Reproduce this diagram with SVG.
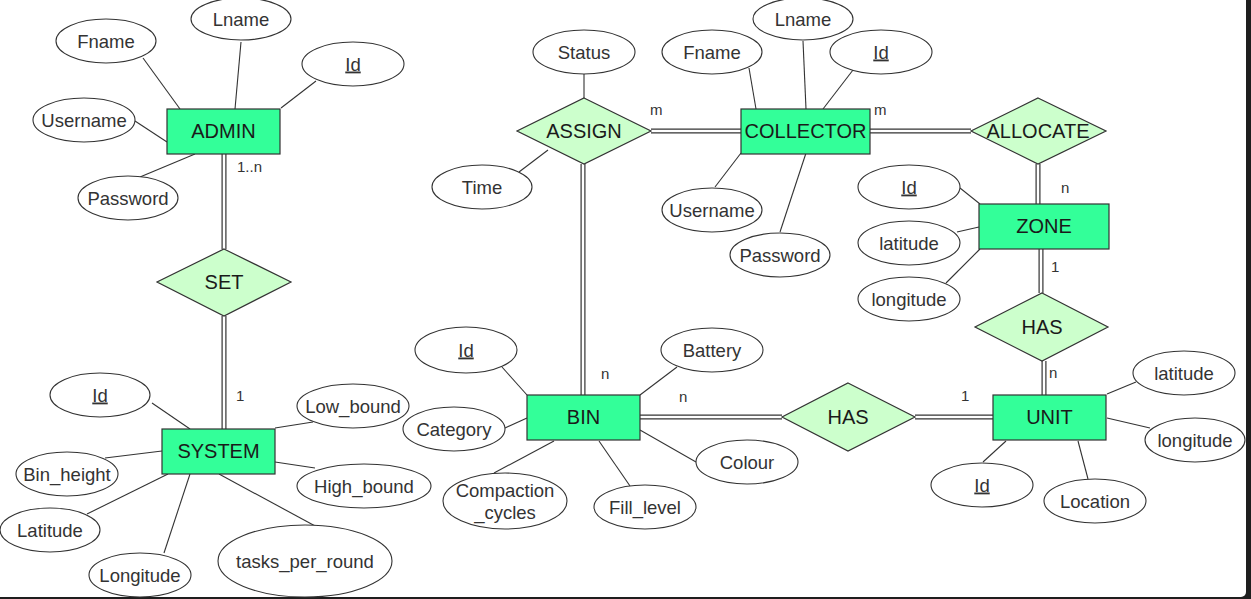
<svg xmlns="http://www.w3.org/2000/svg" width="1251" height="599" viewBox="0 0 1251 599">
<defs>
<style>
.ent{fill:#33FF99;stroke:#333;stroke-width:1.2}
.rel{fill:#CCFFCC;stroke:#333;stroke-width:1.2}
.att{fill:#fff;stroke:#333;stroke-width:1.1}
.et{font-family:"Liberation Sans",Arial,sans-serif;font-size:20px;fill:#1a1a1a;text-anchor:middle}
.at{font-family:"Liberation Sans",Arial,sans-serif;font-size:18.5px;fill:#333;text-anchor:middle}
.card{font-family:"Liberation Sans",Arial,sans-serif;font-size:15px;fill:#333}
.ln{stroke:#333;stroke-width:1.1;fill:none}
.dbo{stroke:#333;stroke-width:5;fill:none}
.dbi{stroke:#fff;stroke-width:2.6;fill:none}
.u{text-decoration:underline}
</style>
</defs>
<rect x="0" y="0" width="1251" height="599" fill="#1e1e1e"/>
<rect x="-10" y="-10" width="1256" height="607" rx="5" fill="#fff"/>

<g id="connectors">
<line class="ln" x1="143" y1="58" x2="180" y2="109"/>
<line class="ln" x1="241" y1="42" x2="235" y2="109"/>
<line class="ln" x1="316" y1="81" x2="281" y2="108"/>
<line class="ln" x1="135" y1="121" x2="167" y2="142"/>
<line class="ln" x1="140" y1="177" x2="195" y2="154"/>

<line class="ln" x1="152" y1="403" x2="190" y2="429"/>
<line class="ln" x1="275" y1="428" x2="313" y2="422"/>
<line class="ln" x1="105" y1="458" x2="162" y2="451"/>
<line class="ln" x1="275" y1="462" x2="315" y2="468"/>
<line class="ln" x1="87" y1="514" x2="168" y2="474"/>
<line class="ln" x1="164" y1="553" x2="190" y2="474"/>
<line class="ln" x1="219" y1="474" x2="317" y2="527"/>

<line class="ln" x1="584" y1="74" x2="584" y2="98"/>
<line class="ln" x1="519" y1="172" x2="548" y2="150"/>

<line class="ln" x1="749" y1="68" x2="756" y2="109"/>
<line class="ln" x1="803" y1="41" x2="806" y2="109"/>
<line class="ln" x1="853" y1="70" x2="823" y2="109"/>
<line class="ln" x1="715" y1="187" x2="741" y2="153"/>
<line class="ln" x1="780" y1="232" x2="806" y2="153"/>

<line class="ln" x1="960" y1="188" x2="980" y2="204"/>
<line class="ln" x1="957" y1="232" x2="979" y2="227"/>
<line class="ln" x1="946" y1="283" x2="980" y2="249"/>

<line class="ln" x1="502" y1="367" x2="527" y2="395"/>
<line class="ln" x1="677" y1="367" x2="640" y2="395"/>
<line class="ln" x1="505" y1="428" x2="527" y2="418"/>
<line class="ln" x1="696" y1="462" x2="640" y2="430"/>
<line class="ln" x1="494" y1="473" x2="554" y2="441"/>
<line class="ln" x1="630" y1="486" x2="599" y2="441"/>

<line class="ln" x1="1107" y1="394" x2="1136" y2="382"/>
<line class="ln" x1="1107" y1="418" x2="1150" y2="428"/>
<line class="ln" x1="983" y1="462" x2="1006" y2="441"/>
<line class="ln" x1="1088" y1="479" x2="1078" y2="441"/>

<g>
<path class="dbo" d="M224 154V249 M224 316V429 M651 131H741 M870 131H971 M1038 164V204 M1041 249V293 M1044 361V395 M583 164V395 M640 417H782 M915 417H993"/>
<path class="dbi" d="M224 154V249 M224 316V429 M651 131H741 M870 131H971 M1038 164V204 M1041 249V293 M1044 361V395 M583 164V395 M640 417H782 M915 417H993"/>
</g>

<text class="card" x="237" y="172">1..n</text>
<text class="card" x="236" y="401">1</text>
<text class="card" x="650" y="115">m</text>
<text class="card" x="874" y="115">m</text>
<text class="card" x="1061" y="193">n</text>
<text class="card" x="1051" y="272">1</text>
<text class="card" x="1049" y="378">n</text>
<text class="card" x="961" y="401">1</text>
<text class="card" x="601" y="379">n</text>
<text class="card" x="679" y="402">n</text>
</g>

<g id="admin">
<rect class="ent" x="167" y="109" width="113" height="45"/>
<text class="et" x="223.5" y="138">ADMIN</text>
</g>
<g id="admin-fname"><ellipse class="att" cx="106" cy="41" rx="50" ry="22"/><text class="at" x="106" y="47.5">Fname</text></g>
<g id="admin-lname"><ellipse class="att" cx="241" cy="19" rx="50" ry="21"/><text class="at" x="241" y="25.5">Lname</text></g>
<g id="admin-id"><ellipse class="att" cx="353" cy="64" rx="51" ry="22"/><text class="at u" x="353" y="70.5">Id</text></g>
<g id="admin-username"><ellipse class="att" cx="84" cy="120" rx="51" ry="22"/><text class="at" x="84" y="126.5">Username</text></g>
<g id="admin-password"><ellipse class="att" cx="128" cy="198" rx="50" ry="22"/><text class="at" x="128" y="204.5">Password</text></g>

<g id="set">
<polygon class="rel" points="224,249 291,282 224,316 157,282"/>
<text class="et" x="224" y="289">SET</text>
</g>

<g id="system">
<rect class="ent" x="162" y="429" width="113" height="45"/>
<text class="et" x="218.5" y="458">SYSTEM</text>
</g>
<g id="system-id"><ellipse class="att" cx="100" cy="395" rx="50" ry="22"/><text class="at u" x="100" y="401.5">Id</text></g>
<g id="system-lowbound"><ellipse class="att" cx="353" cy="406" rx="56" ry="22"/><text class="at" x="353" y="412.5">Low_bound</text></g>
<g id="system-binheight"><ellipse class="att" cx="67" cy="474" rx="51" ry="22"/><text class="at" x="67" y="480.5">Bin_height</text></g>
<g id="system-highbound"><ellipse class="att" cx="364" cy="486" rx="67" ry="22"/><text class="at" x="364" y="492.5">High_bound</text></g>
<g id="system-latitude"><ellipse class="att" cx="50" cy="530" rx="50" ry="22"/><text class="at" x="50" y="536.5">Latitude</text></g>
<g id="system-longitude"><ellipse class="att" cx="140" cy="575" rx="51" ry="22"/><text class="at" x="140" y="581.5">Longitude</text></g>
<g id="system-tasks"><ellipse class="att" cx="305" cy="561" rx="87" ry="36"/><text class="at" x="305" y="567.5">tasks_per_round</text></g>

<g id="assign">
<polygon class="rel" points="584,98 651,131 584,164 517,131"/>
<text class="et" x="584" y="138">ASSIGN</text>
</g>
<g id="assign-status"><ellipse class="att" cx="584" cy="52" rx="51" ry="22"/><text class="at" x="584" y="58.5">Status</text></g>
<g id="assign-time"><ellipse class="att" cx="482" cy="187" rx="50" ry="22"/><text class="at" x="482" y="193.5">Time</text></g>

<g id="collector">
<rect class="ent" x="741" y="109" width="129" height="45"/>
<text class="et" x="805.5" y="138">COLLECTOR</text>
</g>
<g id="collector-fname"><ellipse class="att" cx="712" cy="52" rx="50" ry="22"/><text class="at" x="712" y="58.5">Fname</text></g>
<g id="collector-lname"><ellipse class="att" cx="803" cy="19" rx="50" ry="21"/><text class="at" x="803" y="25.5">Lname</text></g>
<g id="collector-id"><ellipse class="att" cx="881" cy="52" rx="51" ry="22"/><text class="at u" x="881" y="58.5">Id</text></g>
<g id="collector-username"><ellipse class="att" cx="712" cy="210" rx="50" ry="22"/><text class="at" x="712" y="216.5">Username</text></g>
<g id="collector-password"><ellipse class="att" cx="780" cy="255" rx="50" ry="22"/><text class="at" x="780" y="261.5">Password</text></g>

<g id="allocate">
<polygon class="rel" points="1038,98 1106,131 1038,164 971,131"/>
<text class="et" x="1038" y="138">ALLOCATE</text>
</g>

<g id="zone">
<rect class="ent" x="979" y="204" width="130" height="45"/>
<text class="et" x="1044" y="233">ZONE</text>
</g>
<g id="zone-id"><ellipse class="att" cx="909" cy="187" rx="51" ry="22"/><text class="at u" x="909" y="193.5">Id</text></g>
<g id="zone-latitude"><ellipse class="att" cx="909" cy="243" rx="51" ry="22"/><text class="at" x="909" y="249.5">latitude</text></g>
<g id="zone-longitude"><ellipse class="att" cx="909" cy="299" rx="51" ry="22"/><text class="at" x="909" y="305.5">longitude</text></g>

<g id="has-zone-unit">
<polygon class="rel" points="1042,293 1108,327 1042,361 975,327"/>
<text class="et" x="1042" y="334">HAS</text>
</g>

<g id="unit">
<rect class="ent" x="993" y="395" width="113" height="45"/>
<text class="et" x="1049.5" y="424">UNIT</text>
</g>
<g id="unit-latitude"><ellipse class="att" cx="1184" cy="373" rx="51" ry="22"/><text class="at" x="1184" y="379.5">latitude</text></g>
<g id="unit-longitude"><ellipse class="att" cx="1195" cy="440" rx="50" ry="22"/><text class="at" x="1195" y="446.5">longitude</text></g>
<g id="unit-id"><ellipse class="att" cx="982" cy="485" rx="51" ry="22"/><text class="at u" x="982" y="491.5">Id</text></g>
<g id="unit-location"><ellipse class="att" cx="1095" cy="501" rx="51" ry="22"/><text class="at" x="1095" y="507.5">Location</text></g>

<g id="has-bin-unit">
<polygon class="rel" points="848,383 915,417 848,451 782,417"/>
<text class="et" x="848" y="424">HAS</text>
</g>

<g id="bin">
<rect class="ent" x="527" y="395" width="113" height="45"/>
<text class="et" x="583.5" y="424">BIN</text>
</g>
<g id="bin-id"><ellipse class="att" cx="466" cy="350" rx="51" ry="23"/><text class="at u" x="466" y="356.5">Id</text></g>
<g id="bin-battery"><ellipse class="att" cx="712" cy="350" rx="51" ry="22"/><text class="at" x="712" y="356.5">Battery</text></g>
<g id="bin-category"><ellipse class="att" cx="454" cy="429" rx="51" ry="22"/><text class="at" x="454" y="435.5">Category</text></g>
<g id="bin-colour"><ellipse class="att" cx="747" cy="462" rx="51" ry="22"/><text class="at" x="747" y="468.5">Colour</text></g>
<g id="bin-compaction"><ellipse class="att" cx="505" cy="501" rx="62" ry="28"/><text class="at" x="505" y="497">Compaction</text><text class="at" x="505" y="519">_cycles</text></g>
<g id="bin-filllevel"><ellipse class="att" cx="645" cy="507" rx="51" ry="22"/><text class="at" x="645" y="513.5">Fill_level</text></g>
</svg>
